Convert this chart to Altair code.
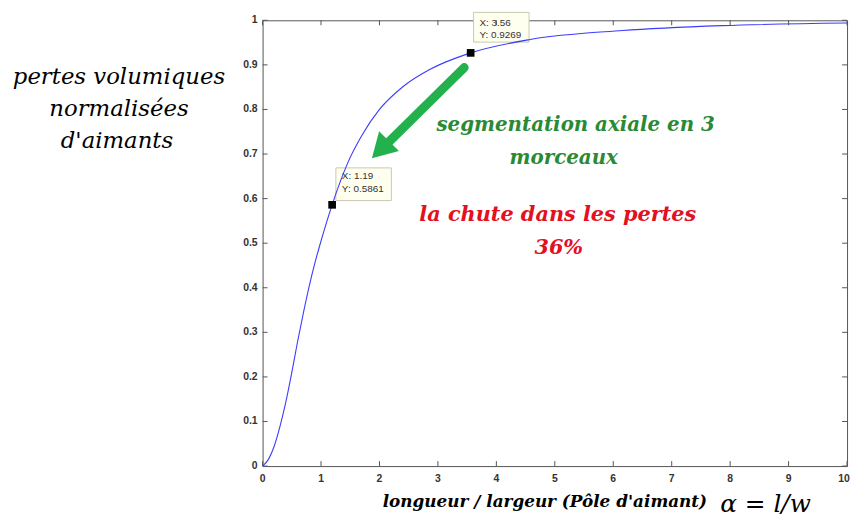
import altair as alt
import pandas as pd

# curve: normalised magnet volume losses vs length/width ratio
ratio = [0, 0.1, 0.2, 0.3, 0.4, 0.5, 0.6, 0.7, 0.8, 0.9, 1.0, 1.19, 1.45,
         1.70, 2.0, 2.4, 2.85, 3.56, 4.58, 6.16, 7.86, 10]
losses = [0, 0.015, 0.045, 0.09, 0.145, 0.21, 0.28, 0.345, 0.405, 0.458, 0.505,
          0.5861, 0.678, 0.742, 0.800, 0.851, 0.889, 0.9269, 0.957, 0.977, 0.988, 0.994]

# data tips
tip_x = [1.19, 3.56]
tip_y = [0.5861, 0.9269]

x_ticks = [0, 1, 2, 3, 4, 5, 6, 7, 8, 9, 10]
y_ticks = [0, 0.1, 0.2, 0.3, 0.4, 0.5, 0.6, 0.7, 0.8, 0.9, 1]
x_tick_labels = ["0", "1", "2", "3", "4", "5", "6", "7", "8", "9", "10"]
y_tick_labels = ["0", "0.1", "0.2", "0.3", "0.4", "0.5", "0.6", "0.7", "0.8", "0.9", "1"]

# green arrow (data units): shaft start/end, head centre
arrow_shaft = {"x": [3.45], "y": [0.894], "x2": [2.12], "y2": [0.722]}
arrow_head = {"x": [2.017], "y": [0.7096]}

W, H = 590, 450
xs = alt.Scale(domain=[0, 10], nice=False, zero=False)
ys = alt.Scale(domain=[0, 1], nice=False, zero=False)

FONT_SANS = "Liberation Sans"
FONT_SERIF = "DejaVu Serif"

curve_df = pd.DataFrame({"x": ratio, "y": losses})
tips_df = pd.DataFrame({"x": tip_x, "y": tip_y})
xt_df = pd.DataFrame({"x": x_ticks, "t": x_tick_labels})
yt_df = pd.DataFrame({"y": y_ticks, "t": y_tick_labels})
one = pd.DataFrame({"k": [0]})

X = lambda f="x:Q": alt.X(f, scale=xs, axis=None)
Y = lambda f="y:Q": alt.Y(f, scale=ys, axis=None)

curve = alt.Chart(curve_df).mark_line(
    color="#3c3cff", strokeWidth=1.1, interpolate="monotone"
).encode(x=X(), y=Y())

tick_col = "#555"
bottom_ticks = alt.Chart(xt_df).mark_rule(color=tick_col).encode(
    x=X(), y=alt.value(H), y2=alt.value(H - 5))
top_ticks = alt.Chart(xt_df).mark_rule(color=tick_col).encode(
    x=X(), y=alt.value(0), y2=alt.value(5))
left_ticks = alt.Chart(yt_df).mark_rule(color=tick_col).encode(
    y=Y(), x=alt.value(0), x2=alt.value(5))
right_ticks = alt.Chart(yt_df).mark_rule(color=tick_col).encode(
    y=Y(), x=alt.value(W - 5), x2=alt.value(W))

lab_style = dict(font=FONT_SANS, fontSize=10.5, fontWeight="bold", color="#333",
                 baseline="middle")
x_labels = alt.Chart(xt_df[xt_df.x < 10]).mark_text(
    align="center", **lab_style
).encode(x=X(), y=alt.value(H + 13), text="t:N")
x_label_last = alt.Chart(xt_df[xt_df.x == 10]).mark_text(
    align="center", dx=-3, **lab_style
).encode(x=X(), y=alt.value(H + 13), text="t:N")
y_labels = alt.Chart(yt_df).mark_text(
    align="right", **lab_style
).encode(y=Y(), x=alt.value(-5), text="t:N")

shaft = alt.Chart(pd.DataFrame(arrow_shaft)).mark_rule(
    color="#22b14c", strokeWidth=9, strokeCap="round"
).encode(x=X(), y=Y(), x2="x2:Q", y2="y2:Q")
head = alt.Chart(pd.DataFrame(arrow_head)).mark_point(
    shape="triangle-up", filled=True, color="#22b14c", opacity=1,
    size=800, angle=225
).encode(x=X(), y=Y())

markers = alt.Chart(tips_df).mark_square(
    size=60, color="black", opacity=1
).encode(x=X(), y=Y())


def box(x1, x2, y1, y2):
    return alt.Chart(one).mark_rect(
        fill="#fffff0", stroke="#c8c8b0", strokeWidth=1
    ).encode(x=alt.value(x1), x2=alt.value(x2), y=alt.value(y1), y2=alt.value(y2))


def txt(t, px, py, size, color="black", weight="normal", style="italic",
        font=FONT_SERIF, align="center"):
    return alt.Chart(one).mark_text(
        align=align, baseline="middle", font=font, fontStyle=style,
        fontWeight=weight, fontSize=size, color=color
    ).encode(x=alt.value(px), y=alt.value(py), text=alt.value(t))


annotations = [
    box(213, 269, -8, 22),
    box(74, 130, 149, 182),
]
tip_texts = [
    txt("X: 3.56", 219, 3, 10, "#333", style="normal", font=FONT_SANS, align="left"),
    txt("Y: 0.9269", 219, 15, 10, "#333", style="normal", font=FONT_SANS, align="left"),
    txt("X: 1.19", 80, 157, 10, "#333", style="normal", font=FONT_SANS, align="left"),
    txt("Y: 0.5861", 80, 170, 10, "#333", style="normal", font=FONT_SANS, align="left"),
]
labels = [
    txt("pertes volumiques", -145, 57, 23),
    txt("normalisées", -145, 90, 23),
    txt("d'aimants", -147, 122, 23),
    txt("segmentation axiale en 3", 316, 106, 20, "#2a8a34", "bold"),
    txt("morceaux", 304, 139, 20, "#2a8a34", "bold"),
    txt("la chute dans les pertes", 298, 197, 21, "#e3101f", "bold"),
    txt("36%", 299, 230, 21, "#e3101f", "bold"),
    txt("longueur / largeur  (Pôle d'aimant)", 285, 486, 17, "black", "bold"),
    txt("α = l/w", 462, 488, 25, "black", "normal", align="left"),
]

chart = alt.layer(
    *annotations, curve, bottom_ticks, top_ticks, left_ticks, right_ticks,
    x_labels, x_label_last, y_labels, shaft, head, markers, *tip_texts, *labels
).properties(
    width=W, height=H,
    autosize=alt.AutoSizeParams(type="none"),
    padding={"left": 257, "top": 10, "right": 4, "bottom": 50},
    background="white",
).configure_view(stroke="#555", strokeWidth=1)

chart.save("out.html", embed_options={"renderer": "svg", "actions": False})
